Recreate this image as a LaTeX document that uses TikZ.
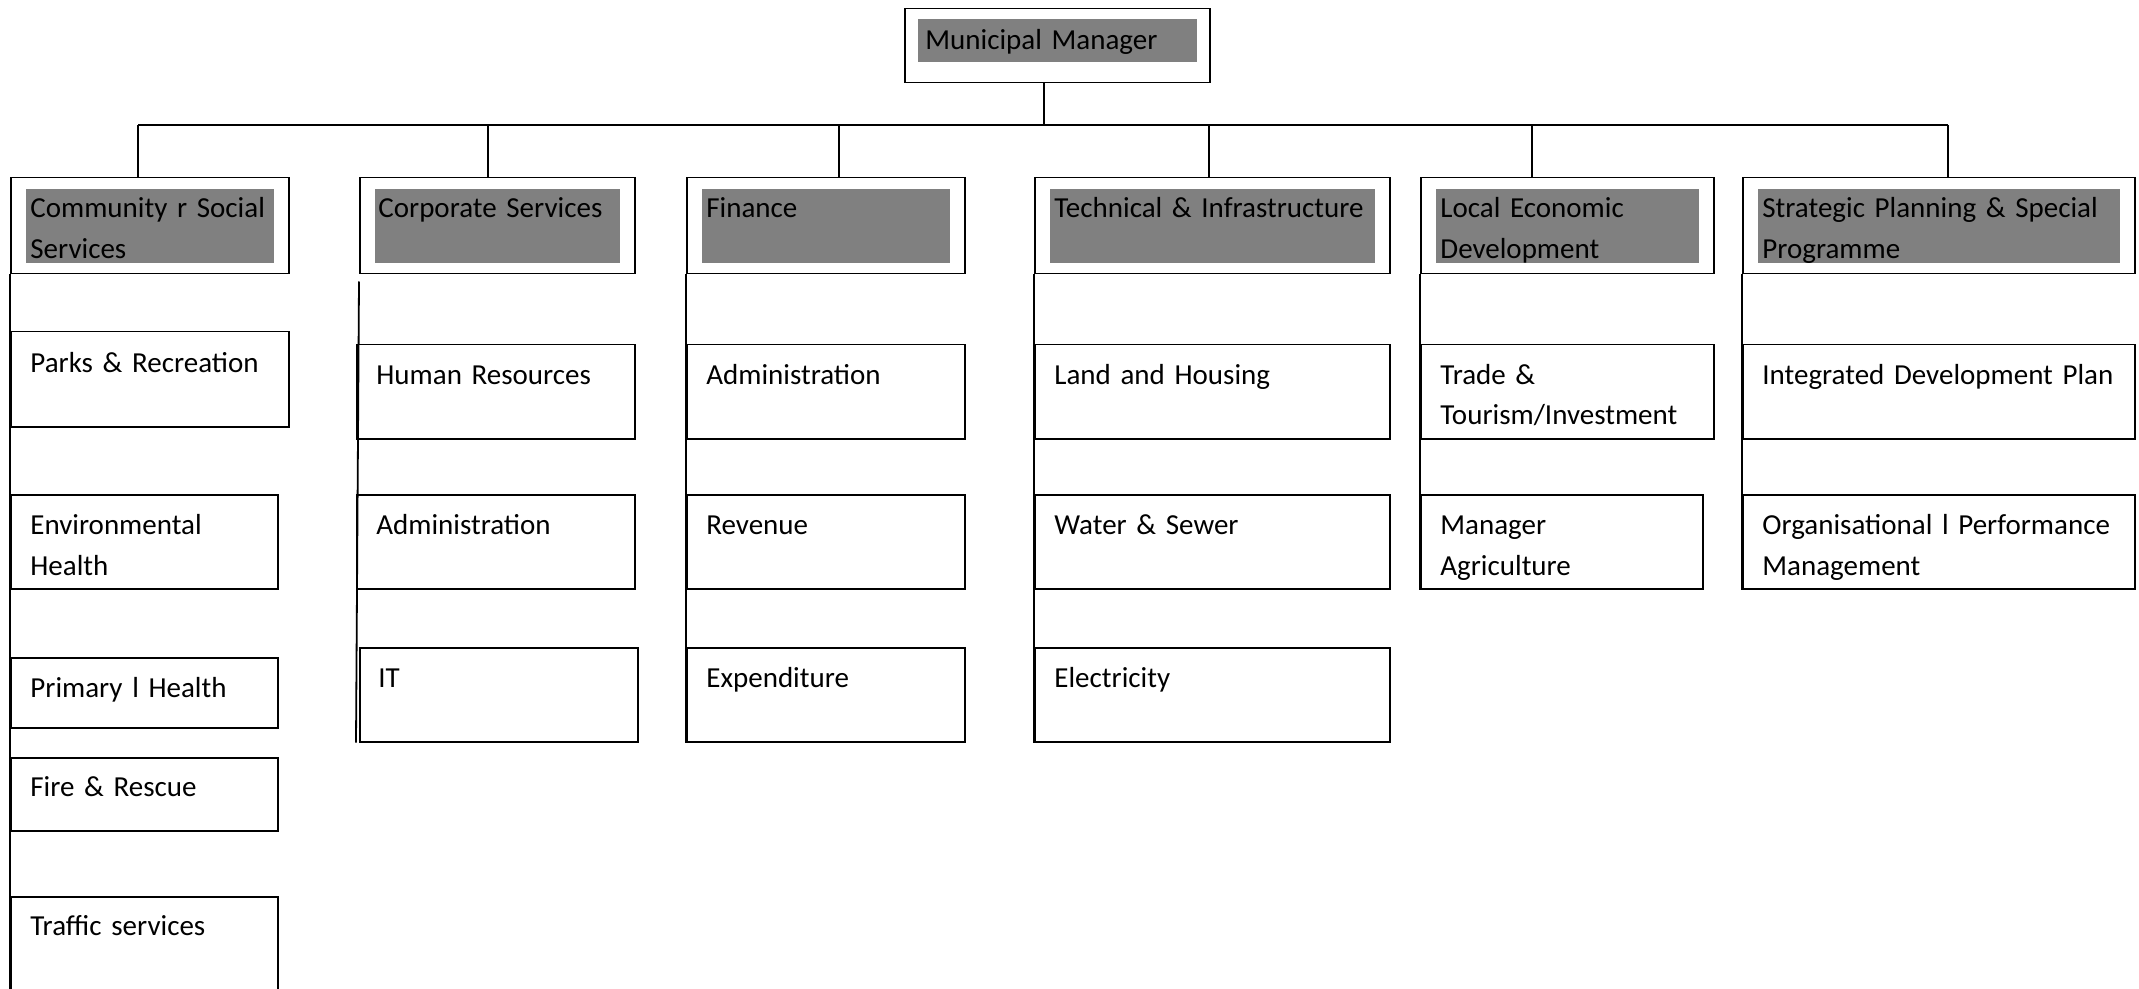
\documentclass[tikz,border=0pt]{standalone}
\usepackage{fontspec}
\setmainfont{Carlito}

\begin{document}
\begin{tikzpicture}[x=0.5pt,y=-0.5pt,
		box/.style={draw,line width=0.75pt,anchor=north west,inner sep=0pt,minimum height=47pt},
		head/.style={box,minimum height=48pt,path picture={\fill[gray] ([xshift=7.5pt,yshift=-5.5pt]path picture bounding box.north west) rectangle ([xshift=-7.5pt,yshift=5.5pt]path picture bounding box.south east);}},
		txt/.style={anchor=base west,inner sep=0pt,text width=220pt,align=left,font=\fontsize{14.5pt}{20.5pt}\selectfont},
		link/.style={line width=0.9pt}]
			\useasboundingbox (0,0) rectangle (2139,989);
			\clip (0,0) rectangle (2139,989);
			% top
			\node[box,minimum width=152.5pt,minimum height=37pt] (mm) at (904,8){};
			\fill[gray] ([shift={(14,11)}]mm.north west) rectangle ([shift={(-14,-21)}]mm.south east);
			\node[txt] (mm-t) at ([shift={(21,42)}]mm.north west){Municipal Manager};
			\coordinate (top) at (1044,125);
			\coordinate (b1) at (138,125);
			\coordinate (b2) at (488,125);
			\coordinate (b3) at (839,125);
			\coordinate (b4) at (1209,125);
			\coordinate (b5) at (1532,125);
			\coordinate (b6) at (1948,125);
			\draw[link] (top |- mm.south) -- (top);
			\draw[link] (b1) -- (b6);
			% departments
			\node[head,minimum width=139pt] (cs) at (10,177){};
			\node[head,minimum width=137.5pt] (cos) at (359,177){};
			\node[head,minimum width=139pt] (fin) at (686,177){};
			\node[head,minimum width=177.5pt] (tech) at (1034,177){};
			\node[head,minimum width=146.5pt] (led) at (1420,177){};
			\node[head,minimum width=196pt] (spsp) at (1742,177){};
			\node[txt] (cs-t) at ([shift={(20,41)}]cs.north west){Community r Social\\Services};
			\node[txt] (cos-t) at ([shift={(19,41)}]cos.north west){Corporate Services};
			\node[txt] (fin-t) at ([shift={(20,41)}]fin.north west){Finance};
			\node[txt] (tech-t) at ([shift={(20,41)}]tech.north west){Technical \& Infrastructure};
			\node[txt] (led-t) at ([shift={(20,41)}]led.north west){Local Economic\\Development};
			\node[txt] (spsp-t) at ([shift={(20,41)}]spsp.north west){Strategic Planning \& Special\\Programme};
			\draw[link] (b1) -- (b1 |- cs.north);
			\draw[link] (b2) -- (b2 |- cos.north);
			\draw[link] (b3) -- (b3 |- fin.north);
			\draw[link] (b4) -- (b4 |- tech.north);
			\draw[link] (b5) -- (b5 |- led.north);
			\draw[link] (b6) -- (b6 |- spsp.north);
			% community
			\node[box,minimum width=139pt,minimum height=47.5pt] (parks) at (10,331){};
			\node[box,minimum width=133.5pt] (env) at (10,494){};
			\node[box,minimum width=133.5pt,minimum height=35pt] (prim) at (10,657){};
			\node[box,minimum width=133.5pt,minimum height=36.5pt] (fire) at (10,757){};
			\node[box,minimum width=133.5pt,minimum height=60pt] (traffic) at (10,896){};
			\node[txt] (parks-t) at ([shift={(20,41)}]parks.north west){Parks \& Recreation};
			\node[txt] (env-t) at ([shift={(20,40)}]env.north west){Environmental\\Health};
			\node[txt] (prim-t) at ([shift={(20,40)}]prim.north west){Primary l Health};
			\node[txt] (fire-t) at ([shift={(20,39)}]fire.north west){Fire \& Rescue};
			\node[txt] (traffic-t) at ([shift={(20,39)}]traffic.north west){Traffic services};
			\draw[link] (cs.south west) -- (traffic.south west);
			% corporate
			\node[box,minimum width=139pt] (hr) at (356,344){};
			\node[box,minimum width=139pt] (cadm) at (356,494){};
			\node[box,minimum width=139pt] (it) at (359,647){};
			\node[txt] (hr-t) at ([shift={(20,40)}]hr.north west){Human Resources};
			\node[txt] (cadm-t) at ([shift={(20,40)}]cadm.north west){Administration};
			\node[txt] (it-t) at ([shift={(19,40)}]it.north west){IT};
			\draw[link] ([yshift=-3.5pt]cos.south west) -- (hr.west |- it.south);
			% finance
			\node[box,minimum width=139pt] (fadm) at (686,344){};
			\node[box,minimum width=139pt] (rev) at (686,494){};
			\node[box,minimum width=139pt] (exp) at (686,647){};
			\node[txt] (fadm-t) at ([shift={(20,40)}]fadm.north west){Administration};
			\node[txt] (rev-t) at ([shift={(20,40)}]rev.north west){Revenue};
			\node[txt] (exp-t) at ([shift={(20,40)}]exp.north west){Expenditure};
			\draw[link] (fin.south west) -- (exp.south west);
			% technical
			\node[box,minimum width=177.5pt] (land) at (1034,344){};
			\node[box,minimum width=177.5pt] (water) at (1034,494){};
			\node[box,minimum width=177.5pt] (elec) at (1034,647){};
			\node[txt] (land-t) at ([shift={(20,40)}]land.north west){Land and Housing};
			\node[txt] (water-t) at ([shift={(20,40)}]water.north west){Water \& Sewer};
			\node[txt] (elec-t) at ([shift={(20,40)}]elec.north west){Electricity};
			\draw[link] (tech.south west) -- (elec.south west);
			% local economic development
			\node[box,minimum width=146.5pt] (trade) at (1420,344){};
			\node[box,minimum width=141pt] (agri) at (1420,494){};
			\node[txt] (trade-t) at ([shift={(20,40)}]trade.north west){Trade \&\\Tourism/Investment};
			\node[txt] (agri-t) at ([shift={(20,40)}]agri.north west){Manager\\Agriculture};
			\draw[link] (led.south west) -- (agri.south west);
			% strategic planning
			\node[box,minimum width=196pt] (idp) at (1742,344){};
			\node[box,minimum width=196pt] (opm) at (1742,494){};
			\node[txt] (idp-t) at ([shift={(20,40)}]idp.north west){Integrated Development Plan};
			\node[txt] (opm-t) at ([shift={(20,40)}]opm.north west){Organisational l Performance\\Management};
			\draw[link] (spsp.south west) -- (opm.south west);
		\end{tikzpicture}
\end{document}
